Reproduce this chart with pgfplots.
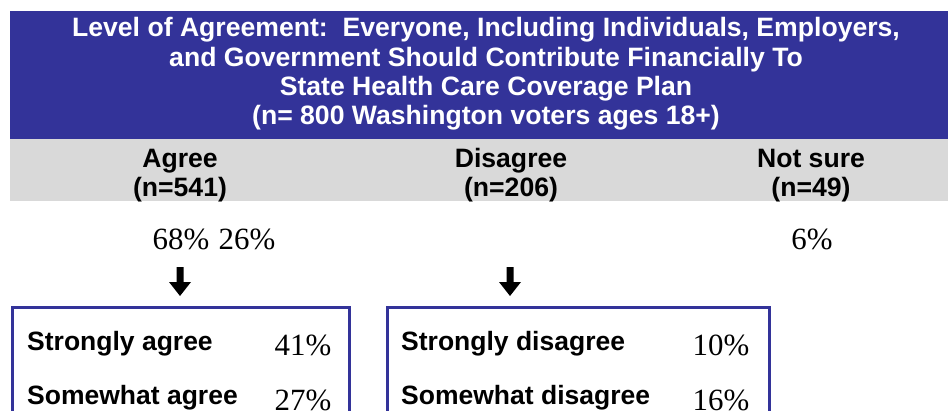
\documentclass[border=0pt]{standalone}
\usepackage{pgfplots}
\pgfplotsset{compat=1.18}
\usepackage{fontspec}
\setmainfont{Liberation Serif}
\newfontfamily\arialb{Liberation Sans}
\definecolor{banner}{RGB}{51,51,153}
\definecolor{band}{RGB}{217,217,217}
\tikzset{
  ttl/.style={anchor=base, inner sep=0pt, font=\arialb\bfseries\fontsize{26.7}{29}\selectfont},
  lbl/.style={anchor=base west, inner sep=0pt, font=\arialb\bfseries\fontsize{26.6}{29}\selectfont},
}
\begin{document}
\begin{tikzpicture}
\begin{axis}[
  width=948bp, height=411bp, scale only axis,
  xmin=0, xmax=948, ymin=0, ymax=411, y dir=reverse,
  hide axis, clip=true,
  /pgf/number format/assume math mode=true,
  every node near coord/.style={anchor=base, font=\fontsize{31}{31}\selectfont, text=black, inner sep=0pt},
  nodes near coords={\pgfmathprintnumber{\pgfplotspointmeta}\%},
  point meta=explicit,
]
% frame and backgrounds
\path (axis cs:0,0) rectangle (axis cs:948,411);
\fill[banner] (axis cs:10,11) rectangle (axis cs:948,139);
\fill[band] (axis cs:10,139) rectangle (axis cs:948,201);
\node[ttl, text=white] at (axis cs:486,37) {Level of Agreement:\ \ Everyone, Including Individuals, Employers,};
\node[ttl, text=white] at (axis cs:486,66.3) {and Government Should Contribute Financially To};
\node[ttl, text=white] at (axis cs:486,95.6) {State Health Care Coverage Plan};
\node[ttl, text=white] at (axis cs:486,124.9) {(n= 800 Washington voters ages 18+)};
\node[ttl] at (axis cs:180,167) {Agree};
\node[ttl] at (axis cs:180,196) {(n=541)};
\node[ttl] at (axis cs:511,167) {Disagree};
\node[ttl] at (axis cs:511,196) {(n=206)};
\node[ttl] at (axis cs:811,167) {Not sure};
\node[ttl] at (axis cs:811,196) {(n=49)};
% arrows
\fill[black] (axis cs:176.5,267) -- (axis cs:183.5,267) -- (axis cs:183.5,282) -- (axis cs:191,282)
  -- (axis cs:180,296) -- (axis cs:169,282) -- (axis cs:176.5,282) -- cycle;
\fill[black] (axis cs:506.5,267) -- (axis cs:513.5,267) -- (axis cs:513.5,282) -- (axis cs:521,282)
  -- (axis cs:510,296) -- (axis cs:499,282) -- (axis cs:506.5,282) -- cycle;
% boxes
\draw[banner, line width=3bp] (axis cs:12.5,420) -- (axis cs:12.5,307) -- (axis cs:349,307) -- (axis cs:349,420);
\draw[banner, line width=3bp] (axis cs:387,420) -- (axis cs:387,307) -- (axis cs:769,307) -- (axis cs:769,420);
\node[lbl] at (axis cs:27,350) {Strongly agree};
\node[lbl] at (axis cs:27,404) {Somewhat agree};
\node[lbl] at (axis cs:401,350) {Strongly disagree};
\node[lbl] at (axis cs:401,404) {Somewhat disagree};
% overall percentages
\addplot[draw=none, mark=none] coordinates {(181,249)[68] (247,249)[26] (812,249)[6]};
% sub percentages
\addplot[draw=none, mark=none] coordinates {(303,355)[41] (303,410)[27] (721,355)[10] (721,410)[16]};
\end{axis}
\end{tikzpicture}
\end{document}
